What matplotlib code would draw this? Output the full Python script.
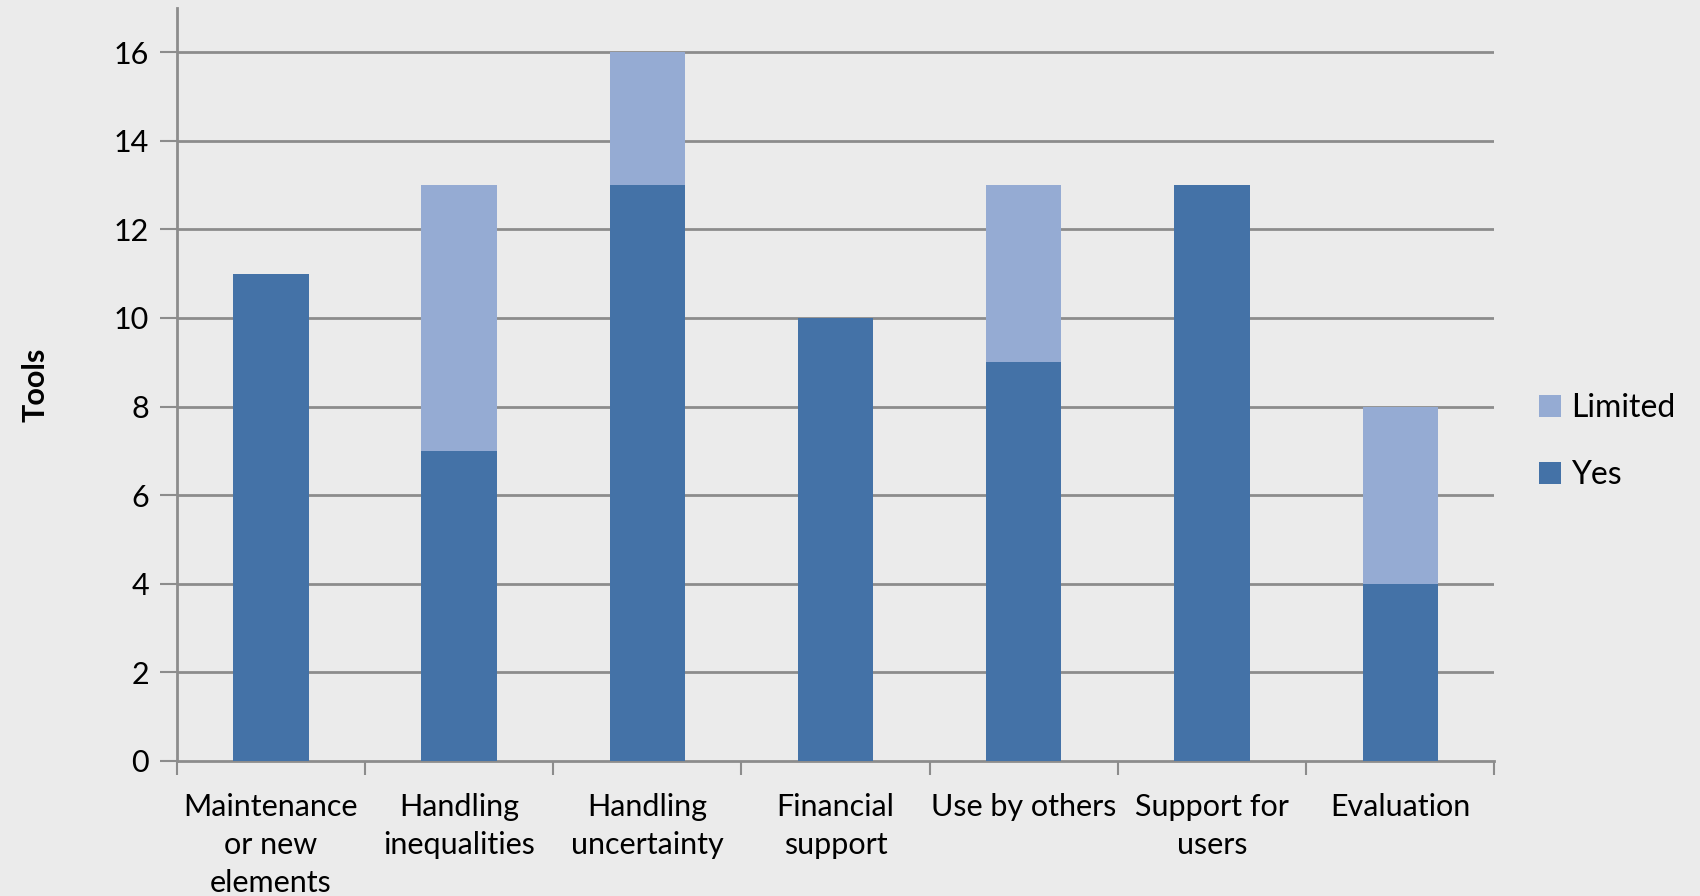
import numpy as np
import matplotlib
matplotlib.use('Agg')
import matplotlib.pyplot as plt

categories = ['Maintenance\nor new\nelements', 'Handling\ninequalities',
              'Handling\nuncertainty', 'Financial\nsupport', 'Use by others',
              'Support for\nusers', 'Evaluation']
yes = [11, 7, 13, 10, 9, 13, 4]
limited = [0, 6, 3, 0, 4, 0, 4]

plt.rcParams['font.family'] = ['Lato', 'DejaVu Sans']

BG = '#ebebeb'
GRID = '#8c8c8c'

fig = plt.figure(figsize=(17, 8.96), dpi=100, facecolor=BG)
ax = fig.add_axes([0.104, 0.151, 0.775, 0.840])
ax.set_facecolor(BG)

ind = np.arange(len(categories))
width = 0.4
b1 = ax.bar(ind, yes, width, color='#4472a7', label='Yes', zorder=3)
b2 = ax.bar(ind, limited, width, bottom=yes, color='#95abd3',
            label='Limited', zorder=3)

ax.set_xlim(-0.5, len(categories) - 0.5)
ax.set_ylim(0, 17)
ax.set_yticks(range(0, 17, 2))
ax.tick_params(axis='y', labelsize=22, length=12, width=1.5, color=GRID,
               pad=8)
for y in range(2, 17, 2):
    ax.axhline(y, color=GRID, lw=2, zorder=1)

# category labels between ticks
ax.set_xticks(np.arange(len(categories) + 1) - 0.5)
ax.set_xticklabels([])
ax.tick_params(axis='x', length=10, width=1.5, color=GRID)
for i, c in enumerate(categories):
    ax.text(i, -0.72, c, ha='center', va='top', fontsize=22,
            linespacing=1.45, transform=ax.transData)

for s in ('top', 'right'):
    ax.spines[s].set_visible(False)
for s in ('left', 'bottom'):
    ax.spines[s].set_color(GRID)
    ax.spines[s].set_linewidth(2)

ax.set_ylabel('Tools', fontsize=22, fontweight='bold', labelpad=46)

leg = ax.legend([b2, b1], ['Limited', 'Yes'], loc='center left',
                bbox_to_anchor=(1.012, 0.424), frameon=False, fontsize=23,
                handlelength=0.7, handleheight=0.7, handletextpad=0.3,
                labelspacing=1.15)

fig.savefig('out.png', dpi=100, facecolor=BG)
